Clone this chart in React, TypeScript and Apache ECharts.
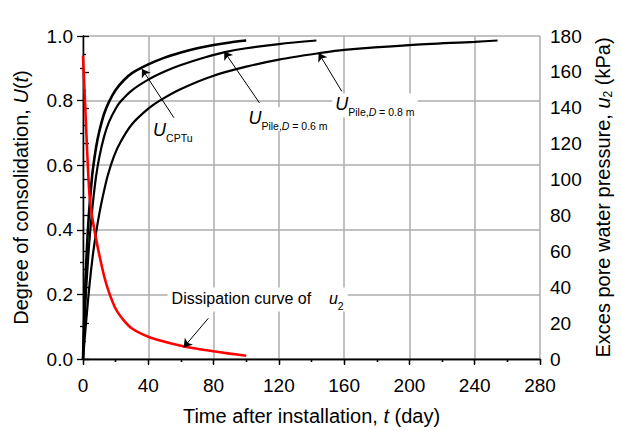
import React, { useEffect, useRef } from "react";
import * as echarts from "echarts";

const FONT = '"Liberation Sans", Arial, Helvetica, sans-serif';

// Degree of consolidation curves (t in days, U dimensionless)
const tCPTu = [0, 1, 2, 3, 4, 5, 6, 8, 10, 13, 16, 20, 25, 30, 40, 50, 60, 70, 80, 90, 100];
const uCPTu = [0, 0.17, 0.3, 0.4, 0.475, 0.535, 0.585, 0.655, 0.705, 0.76, 0.797, 0.833, 0.863, 0.885, 0.912, 0.933, 0.949, 0.962, 0.972, 0.98, 0.986];

const tPile06 = [0, 1, 2, 3, 4, 6, 8, 10, 13, 16, 20, 23, 30, 40, 50, 60, 75, 87, 100, 120, 143];
const uPile06 = [0, 0.12, 0.22, 0.3, 0.37, 0.48, 0.565, 0.625, 0.69, 0.735, 0.775, 0.797, 0.832, 0.865, 0.89, 0.91, 0.934, 0.95, 0.962, 0.975, 0.986];

const tPile08 = [0, 2, 4, 6, 8, 10, 12, 15, 19, 23, 30, 40, 47, 60, 80, 100, 120, 145, 160, 200, 240, 254];
const uPile08 = [0, 0.12, 0.23, 0.32, 0.39, 0.45, 0.5, 0.565, 0.628, 0.672, 0.727, 0.775, 0.8, 0.836, 0.877, 0.905, 0.927, 0.947, 0.957, 0.972, 0.982, 0.986];

// Excess pore water pressure dissipation (kPa)
const tU2 = [0, 1, 2, 3, 4, 5, 6, 8, 10, 13, 16, 20, 25, 30, 40, 50, 60, 70, 80, 90, 100];
const vU2 = [169, 148, 127, 107, 91, 83, 77, 67, 58, 46, 37, 28, 21.5, 17, 12.4, 9.6, 7.4, 5.7, 4.3, 3, 1.8];

// Axis ticks
const xTicks = { min: 0, max: 280, interval: 40 };
const yLeftTicks = { min: 0, max: 1, interval: 0.2 };
const yRightTicks = { min: 0, max: 180, interval: 20 };

// Annotation texts and anchors (data coordinates)
const labelCPTu = { coord: [55, 0.705], sub: "{s|CPTu}" };
const labelP06 = { coord: [125.6, 0.743], sub: "{s|Pile,}{si|D}{s| = 0.6 m}" };
const labelP08 = { coord: [178.8, 0.785], sub: "{s|Pile,}{si|D}{s| = 0.8 m}" };
const labelU2 = { coord: [107, 33.2], text: "Dissipation curve of    " };

const arrowCPTu = [[55.7, 0.747], [36.1, 0.898]];
const arrowP06 = [[108.1, 0.793], [86.5, 0.952]];
const arrowP08 = [[158.5, 0.829], [144.4, 0.947]];
const arrowU2 = [[76.8, 22.7], [61.7, 6.5]];

const zip = (a: number[], b: number[]) => a.map((t, i) => [t, b[i]]);

const subRich = {
  u: { fontFamily: FONT, fontSize: 18, fontStyle: "italic", color: "#000", lineHeight: 20, verticalAlign: "top" },
  s: { fontFamily: FONT, fontSize: 10.5, color: "#000", lineHeight: 12, verticalAlign: "top", padding: [11, 0, 0, 0] },
  si: { fontFamily: FONT, fontSize: 10.5, fontStyle: "italic", color: "#000", lineHeight: 12, verticalAlign: "top", padding: [11, 0, 0, 0] },
  t: { fontFamily: FONT, fontSize: 16, color: "#000", lineHeight: 20, verticalAlign: "top", padding: [1, 0, 0, 0] },
  ui: { fontFamily: FONT, fontSize: 16, fontStyle: "italic", color: "#000", lineHeight: 20, verticalAlign: "top", padding: [1, 0, 0, 0] },
};

const uLabelPoint = (l: { coord: number[]; sub: string }) => ({
  coord: l.coord,
  symbol: "rect",
  symbolSize: 1,
  itemStyle: { color: "rgba(0,0,0,0)" },
  label: {
    show: true,
    position: "inside",
    formatter: `{u|U}${l.sub}`,
    rich: subRich,
    backgroundColor: "#fff",
    padding: [2, 3, 2, 3],
  },
});

const arrowLine = (a: number[][]) => ({
  silent: true,
  symbol: ["none", "arrow"],
  symbolSize: 8,
  label: { show: false },
  lineStyle: { color: "#000", width: 1, type: "solid" },
  emphasis: { disabled: true },
  data: [[{ coord: a[0] }, { coord: a[1] }]],
});

const axisNameRich = {
  a: { fontFamily: FONT, fontSize: 20, color: "#000" },
  i: { fontFamily: FONT, fontSize: 20, fontStyle: "italic", color: "#000" },
  s: { fontFamily: FONT, fontSize: 12, color: "#000", padding: [10, 0, 0, 0] },
};

const axisLineStyle = { show: true, lineStyle: { color: "#000", width: 1.3 } };
const gridLine = { show: true, lineStyle: { color: "#adadad", width: 1.5 } };
const labelStyle = { fontFamily: FONT, fontSize: 19, color: "#000" };
const tickStyle = { color: "#000", width: 1.3 };

const lineSeries = (name: string, data: number[][], color: string, width: number, yAxisIndex: number) => ({
  name,
  type: "line",
  xAxisIndex: 0,
  yAxisIndex,
  data,
  showSymbol: false,
  smooth: 0.3,
  lineStyle: { color, width },
  z: 3,
});

export default function App() {
  const ref = useRef<HTMLDivElement>(null);
  useEffect(() => {
    const chart = echarts.init(ref.current!, null, { renderer: "svg" });
    const option: any = {
      animation: false,
      backgroundColor: "#fff",
      grid: { left: 83, right: 77, top: 36, bottom: 70, containLabel: false },
      xAxis: [
        {
          type: "value",
          position: "bottom",
          ...xTicks,
          name: "{a|Time after installation, }{i|t}{a| (day)}",
          nameLocation: "middle",
          nameGap: 47,
          nameTextStyle: { rich: axisNameRich },
          axisLine: axisLineStyle,
          axisTick: { show: true, inside: false, length: 6, lineStyle: tickStyle },
          minorTick: { show: true, splitNumber: 2, length: 3, lineStyle: tickStyle },
          axisLabel: { ...labelStyle, margin: 17 },
          splitLine: gridLine,
          minorSplitLine: { show: false },
        },
        {
          type: "value",
          position: "top",
          ...xTicks,
          axisLine: axisLineStyle,
          axisTick: { show: true, inside: true, length: 5, lineStyle: tickStyle },
          minorTick: { show: true, splitNumber: 2, length: 3, lineStyle: tickStyle },
          axisLabel: { show: false },
          splitLine: { show: false },
        },
      ],
      yAxis: [
        {
          type: "value",
          position: "left",
          ...yLeftTicks,
          name: "{a|Degree of consolidation, }{i|U}{a|(}{i|t}{a|)}",
          nameLocation: "middle",
          nameGap: 52,
          nameRotate: 90,
          nameTextStyle: { rich: axisNameRich },
          axisLine: axisLineStyle,
          axisTick: { show: true, inside: false, length: 6, lineStyle: tickStyle },
          minorTick: { show: true, splitNumber: 2, length: 3, lineStyle: tickStyle },
          axisLabel: { ...labelStyle, margin: 10, formatter: (v: number) => v.toFixed(1) },
          splitLine: gridLine,
        },
        {
          type: "value",
          position: "right",
          ...yRightTicks,
          name: "{a|Exces pore water pressure, }{i|u}{s|2}{a| (kPa)}",
          nameLocation: "middle",
          nameGap: 52,
          nameRotate: 90,
          nameTextStyle: { rich: axisNameRich },
          axisLine: axisLineStyle,
          axisTick: { show: true, inside: false, length: 6, lineStyle: tickStyle },
          minorTick: { show: true, splitNumber: 2, length: 3, lineStyle: tickStyle },
          axisLabel: { ...labelStyle, margin: 10 },
          splitLine: { show: false },
        },
      ],
      series: [
        {
          ...lineSeries("U_CPTu", zip(tCPTu, uCPTu), "#000", 2.6, 0),
          markLine: arrowLine(arrowCPTu),
          markPoint: { silent: true, data: [uLabelPoint(labelCPTu)] },
        },
        {
          ...lineSeries("U_Pile06", zip(tPile06, uPile06), "#000", 2.2, 0),
          markLine: arrowLine(arrowP06),
          markPoint: { silent: true, data: [uLabelPoint(labelP06)] },
        },
        {
          ...lineSeries("U_Pile08", zip(tPile08, uPile08), "#000", 2.2, 0),
          markLine: arrowLine(arrowP08),
          markPoint: { silent: true, data: [uLabelPoint(labelP08)] },
        },
        {
          ...lineSeries("u2", zip(tU2, vU2), "#ff0000", 2.6, 1),
          z: 4,
          markLine: arrowLine(arrowU2),
          markPoint: {
            silent: true,
            data: [
              {
                coord: labelU2.coord,
                symbol: "rect",
                symbolSize: 1,
                itemStyle: { color: "rgba(0,0,0,0)" },
                label: {
                  show: true,
                  position: "inside",
                  formatter: `{t|${labelU2.text}}{ui|u}{s|2}`,
                  rich: subRich,
                  backgroundColor: "#fff",
                  padding: [2, 4, 2, 4],
                },
              },
            ],
          },
        },
      ],
    };
    chart.setOption(option);
    return () => chart.dispose();
  }, []);
  return <div ref={ref} style={{ position: "fixed", left: 0, top: 0, width: 622, height: 431 }} />;
}
